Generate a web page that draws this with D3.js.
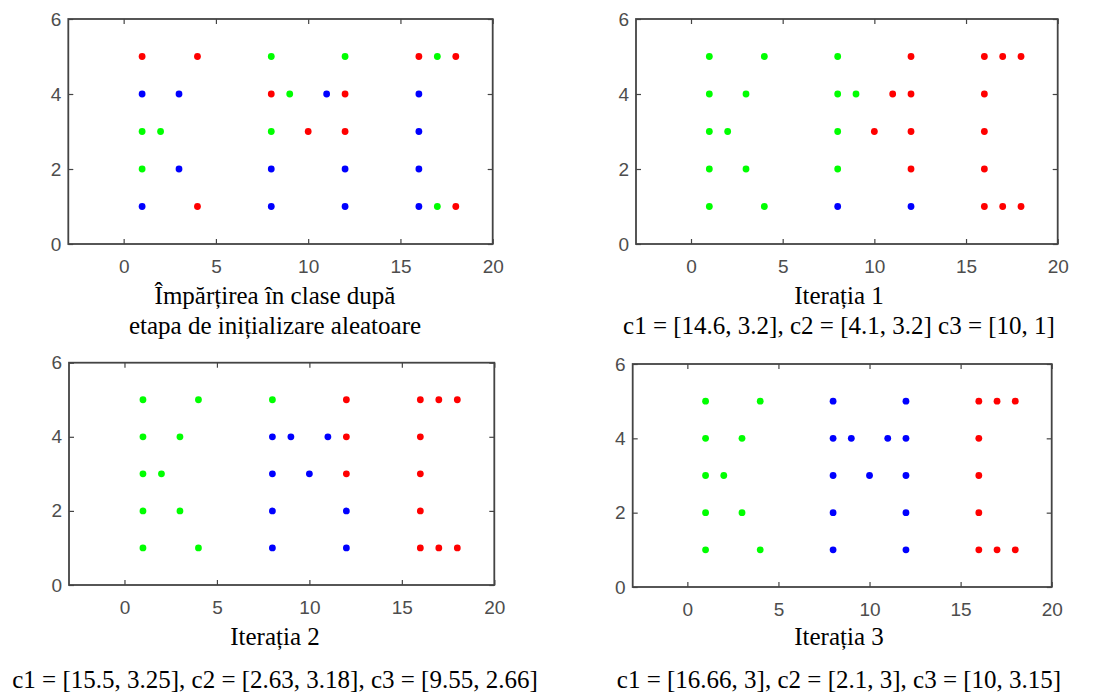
<!DOCTYPE html>
<html>
<head>
<meta charset="utf-8">
<script src="https://cdn.jsdelivr.net/npm/d3@7/dist/d3.min.js"></script>
<style>
  html, body { margin: 0; padding: 0; background: #fff; }
  svg { display: block; }
  .tick line { stroke: #444; stroke-width: 1.2; }
</style>
</head>
<body>
<svg id="chart" width="1104" height="697"></svg>
<script>
// Sample points (shared by all four panels)
const pointX = [1, 1, 1, 1, 1, 2, 3, 3, 4, 4, 8, 8, 8, 8, 8, 9, 10, 11, 12, 12, 12, 12, 12, 16, 16, 16, 16, 16, 17, 17, 18, 18];
const pointY = [1, 2, 3, 4, 5, 3, 2, 4, 1, 5, 1, 2, 3, 4, 5, 4, 3, 4, 1, 2, 3, 4, 5, 1, 2, 3, 4, 5, 1, 5, 1, 5];

// Cluster assignment of each point, per step (1 = red, 2 = green, 3 = blue)
const assignInit  = [3, 2, 2, 3, 1, 2, 3, 3, 1, 1, 3, 3, 2, 1, 2, 2, 1, 3, 3, 3, 1, 1, 2, 3, 3, 3, 3, 1, 2, 2, 1, 1];
const assignIter1 = [2, 2, 2, 2, 2, 2, 2, 2, 2, 2, 3, 2, 2, 2, 2, 2, 1, 1, 3, 1, 1, 1, 1, 1, 1, 1, 1, 1, 1, 1, 1, 1];
const assignIter2 = [2, 2, 2, 2, 2, 2, 2, 2, 2, 2, 3, 3, 3, 3, 2, 3, 3, 3, 3, 3, 1, 1, 1, 1, 1, 1, 1, 1, 1, 1, 1, 1];
const assignIter3 = [2, 2, 2, 2, 2, 2, 2, 2, 2, 2, 3, 3, 3, 3, 3, 3, 3, 3, 3, 3, 3, 3, 3, 1, 1, 1, 1, 1, 1, 1, 1, 1];

const clusterColors = { 1: "#ff0000", 2: "#00ff00", 3: "#0000ff" };

// Axis ranges and ticks
const xDomain = [-3, 20];
const yDomain = [0, 6];
const xTicks = [0, 5, 10, 15, 20];
const yTicks = [0, 2, 4, 6];

// Caption lines under each panel
const captions = [
  ["Împărțirea în clase după", "etapa de inițializare aleatoare"],
  ["Iterația 1", "c1 = [14.6, 3.2], c2 = [4.1, 3.2] c3 = [10, 1]"],
  ["Iterația 2", "c1 = [15.5, 3.25], c2 = [2.63, 3.18], c3 = [9.55, 2.66]"],
  ["Iterația 3", "c1 = [16.66, 3], c2 = [2.1, 3], c3 = [10, 3.15]"]
];
const assignments = [assignInit, assignIter1, assignIter2, assignIter3];

// Panel frames: plot box and caption placement
const panels = [
  { left: 68.3, right: 492.7, top: 19, bottom: 244, cx: 275, lines: [304, 334] },
  { left: 636, right: 1057.7, top: 19, bottom: 244, cx: 839, lines: [304, 334] },
  { left: 69, right: 494.3, top: 362.7, bottom: 585, cx: 275, lines: [645, 688] },
  { left: 632.7, right: 1051.7, top: 364, bottom: 587, cx: 839, lines: [645, 688] }
];

const tickFont = "'Liberation Sans', Arial, sans-serif";
const captionFont = "'Liberation Serif', 'Times New Roman', 'DejaVu Serif', serif";
const fmt = d3.format("d");

const svg = d3.select("#chart");

function styleTickText(a) {
  a.selectAll("text")
    .attr("font-family", tickFont)
    .attr("font-size", 19)
    .attr("fill", "#4d4d4d");
}

panels.forEach((p, i) => {
  const x = d3.scaleLinear().domain(xDomain).range([p.left, p.right]);
  const y = d3.scaleLinear().domain(yDomain).range([p.bottom, p.top]);
  const g = svg.append("g");

  // Axes with inward ticks on all four sides
  g.append("g").attr("transform", `translate(0,${p.bottom})`)
    .call(d3.axisBottom(x).tickValues(xTicks).tickFormat(fmt).tickSizeInner(-5).tickSizeOuter(0).tickPadding(16))
    .call(a => a.select(".domain").remove())
    .call(styleTickText);
  g.append("g").attr("transform", `translate(0,${p.top})`)
    .call(d3.axisTop(x).tickValues(xTicks).tickSizeInner(-5).tickSizeOuter(0).tickFormat(""))
    .call(a => a.select(".domain").remove());
  g.append("g").attr("transform", `translate(${p.left},0)`)
    .call(d3.axisLeft(y).tickValues(yTicks).tickFormat(fmt).tickSizeInner(-5).tickSizeOuter(0).tickPadding(7))
    .call(a => a.select(".domain").remove())
    .call(styleTickText);
  g.append("g").attr("transform", `translate(${p.right},0)`)
    .call(d3.axisRight(y).tickValues(yTicks).tickSizeInner(-5).tickSizeOuter(0).tickFormat(""))
    .call(a => a.select(".domain").remove());

  // Plot box
  g.append("rect")
    .attr("x", x(xDomain[0])).attr("y", y(yDomain[1]))
    .attr("width", x(xDomain[1]) - x(xDomain[0]))
    .attr("height", y(yDomain[0]) - y(yDomain[1]))
    .attr("fill", "none").attr("stroke", "#444").attr("stroke-width", 1.8);

  // Points coloured by cluster
  g.selectAll("circle.pt")
    .data(pointX.map((v, k) => ({ x: v, y: pointY[k], c: assignments[i][k] })))
    .join("circle")
    .attr("class", "pt")
    .attr("cx", d => x(d.x))
    .attr("cy", d => y(d.y))
    .attr("r", 3.4)
    .attr("fill", d => clusterColors[d.c]);

  // Caption
  captions[i].forEach((line, j) => {
    g.append("text")
      .attr("x", p.cx).attr("y", p.lines[j])
      .attr("text-anchor", "middle")
      .attr("font-family", captionFont)
      .attr("font-size", 25)
      .attr("fill", "#000")
      .text(line);
  });
});
</script>
</body>
</html>
